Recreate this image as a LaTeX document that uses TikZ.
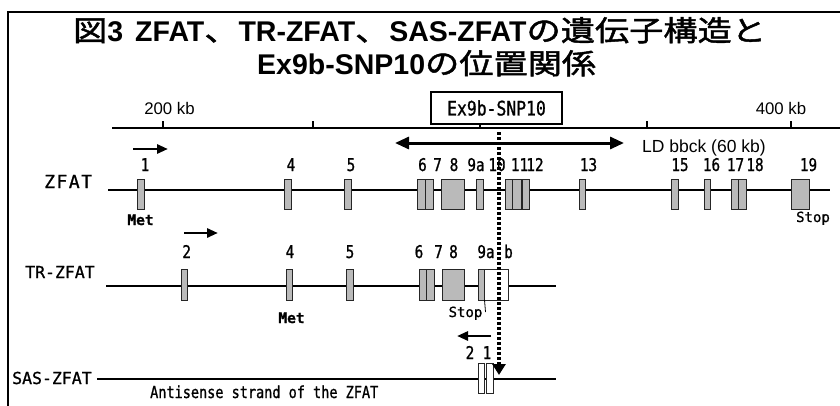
\documentclass[tikz,border=0pt]{standalone}
\usepackage{fontspec}
\setmainfont{Liberation Sans}
\newfontfamily\cjk[FakeStretch=1.2,FakeBold=1.6]{Noto Sans CJK JP}
\newfontfamily\mono[FakeBold=1]{DejaVu Sans Mono}
\newfontfamily\monon[FakeStretch=0.82,FakeBold=1]{DejaVu Sans Mono}
\usetikzlibrary{arrows.meta}
\tikzset{
  exon/.style={draw=black!85, fill=black!27, line width=0.9pt, inner sep=0pt, outer sep=0pt},
  exonw/.style={draw=black!85, fill=white, line width=0.9pt, inner sep=0pt, outer sep=0pt},
  gline/.style={line width=1.8pt},
  num/.style={inner sep=0pt, anchor=base, font=\monon\fontsize{17.5}{17}\selectfont},
  gname/.style={inner sep=0pt, anchor=base west, font=\mono\fontsize{16.5}{17}\selectfont},
  small/.style={inner sep=0pt, anchor=base, font=\mono\fontsize{14}{14}\selectfont},
  scalelbl/.style={inner sep=0pt, anchor=base, font=\fontsize{16.8}{17}\selectfont},
  dirarrow/.style={line width=2.8pt, -{Triangle[length=11pt,width=9pt]}},
  title/.style={inner sep=0pt, anchor=base west, font=\fontsize{28.5}{30}\selectfont\bfseries},
}
\newcommand\mkexon[6]{\node[#2, minimum width={#4-#3}, minimum height={#6-#5}] (#1) at ({(#3+#4)/2},{(#5+#6)/2}) {};}
\newcommand\tj[1]{{\mdseries\cjk #1}}
\begin{document}
\begin{tikzpicture}[x=1pt,y=-1pt]
\useasboundingbox (0,0) rectangle (840,405);
\clip (0,0) rectangle (840,405);
% frame
\draw[line width=1.6pt] (8,410) -- (8,12) -- (845,12);
% title
\node[title] (t1) at (73,41) {\tj{図}3\hspace{12pt}ZFAT\tj{、}TR-ZFAT\tj{、}SAS-ZFAT\tj{の遺伝子構造と}};
\node[title] (t2) at (257,74) {Ex9b-SNP10\tj{の位置関係}};
% scale
\coordinate (s0) at (112,128);
\coordinate (s1) at (845,128);
\draw[line width=1.8pt] (s0) -- (s1);
\foreach \t in {163,313,480,647,791} \draw[line width=1.5pt] (\t,121) -- (\t,128);
\node[scalelbl] (k200) at (169.5,114) {200 kb};
\node[scalelbl] (k400) at (781,114) {400 kb};
\node[draw, line width=2.2pt, fill=white, minimum width=131, minimum height=32, inner sep=0pt,
      font=\monon\fontsize{20}{20}\selectfont] (snp) at (496.5,108) {Ex9b-SNP10};
% LD block
\coordinate (ldl) at (395,143);
\coordinate (ldr) at (624,143);
\draw[line width=3pt, {Triangle[length=14pt,width=12pt]}-{Triangle[length=14pt,width=12pt]}] (ldl) -- (ldr);
\node[inner sep=0pt, anchor=base west, font=\fontsize{17.5}{17}\selectfont] (ld) at (642,152) {LD bbck (60 kb)};
% ZFAT
\node[gname, font=\mono\fontsize{18}{17}\selectfont] (zname) at (44,188) {Z\kern1.5pt F\kern1.5pt A\kern1.5pt T};
\coordinate (zl) at (108,190);
\coordinate (zr) at (830,190);
\draw[gline] (zl) -- (zr);
\mkexon{z1}{exon}{137}{144}{179}{209}
\mkexon{z4}{exon}{284}{291}{179}{209}
\mkexon{z5}{exon}{344}{351}{179}{209}
\mkexon{z6}{exon}{417}{425}{179}{209}
\mkexon{z7}{exon}{425}{433}{179}{209}
\mkexon{z8}{exon}{441}{464}{179}{209}
\mkexon{z9a}{exon}{476}{483}{179}{209}
\mkexon{z10}{exon}{505}{512.5}{179}{209}
\mkexon{z11}{exon}{512.5}{521}{179}{209}
\mkexon{z12}{exon}{522.5}{529}{179}{209}
\mkexon{z13}{exon}{579}{585.5}{179}{209}
\mkexon{z15}{exon}{671}{678}{179}{209}
\mkexon{z16}{exon}{704}{710.5}{179}{209}
\mkexon{z17}{exon}{731}{738.5}{179}{209}
\mkexon{z18}{exon}{738.5}{746}{179}{209}
\mkexon{z19}{exon}{791}{809}{179}{209}
\foreach \xx/\lab [count=\i] in {145/1,291/4,351/5,422.5/6,437.5/7,454/8,476/9a,497/10,519.5/11,535/12,588.5/13,680/15,711.5/16,735.5/17,755/18,808.5/19}
  \node[num] (zn\i) at (\xx,171) {\lab};
\coordinate (za0) at (133,149);
\coordinate (za1) at (168,149);
\draw[dirarrow] (za0) -- (za1);
\node[small, font=\mono\bfseries\fontsize{14.5}{14}\selectfont] (zmet) at (140.5,225) {Met};
\node[small] (zstop) at (813,222) {Stop};
% TR-ZFAT
\node[gname] (tname) at (25,278) {TR-ZFAT};
\coordinate (tl) at (106,286);
\coordinate (tr) at (556,286);
\draw[gline] (tl) -- (tr);
\mkexon{t2}{exon}{181}{187.5}{269}{300}
\mkexon{t4}{exon}{286}{292}{269}{300}
\mkexon{t5}{exon}{346}{353}{269}{300}
\mkexon{t6}{exon}{419}{426.5}{269}{300}
\mkexon{t7}{exon}{426.5}{434}{269}{300}
\mkexon{t8}{exon}{442}{464}{269}{300}
\mkexon{t9b}{exonw}{484.5}{508}{269}{300}
\mkexon{t9a}{exon}{478}{484.5}{269}{300}
\foreach \xx/\lab [count=\i] in {186.7/2,290/4,350/5,419/6,438.5/7,453.5/8,486/9a,508.5/b}
  \node[num] (tn\i) at (\xx,258) {\lab};
\coordinate (ta0) at (184,233);
\coordinate (ta1) at (218,233);
\draw[dirarrow] (ta0) -- (ta1);
\node[small, font=\mono\bfseries\fontsize{14.5}{14}\selectfont] (tmet) at (291.5,323) {Met};
\node[small] (tstop) at (465.5,317) {Stop};
\coordinate (stopt) at (485.5,312);
\draw[line width=0.8pt] (stopt) -- (t9a.south east);
% SAS-ZFAT
\node[gname] (sname) at (12,384) {SAS-ZFAT};
\coordinate (sl) at (97,379);
\coordinate (sr) at (556,379);
\draw[gline] (sl) -- (sr);
\mkexon{s2}{exonw}{478}{484.5}{363}{393}
\mkexon{s1}{exonw}{486}{493}{363}{393}
\node[num] (sn2) at (470,359) {2};
\node[num] (sn1) at (487,359) {1};
\coordinate (sa0) at (491,336);
\coordinate (sa1) at (457,336);
\draw[dirarrow] (sa0) -- (sa1);
\node[inner sep=0pt, anchor=base west, font=\monon\fontsize{16.5}{17}\selectfont] (anti) at (150,398) {Antisense strand of the ZFAT};
% dotted arrow
\coordinate (dtop) at (499,132);
\coordinate (dbot) at (499,375);
\draw[line width=4pt, dash pattern=on 3pt off 2pt, -{Triangle[length=11pt,width=13pt]}] (dtop) -- (dbot);
\end{tikzpicture}
\end{document}
